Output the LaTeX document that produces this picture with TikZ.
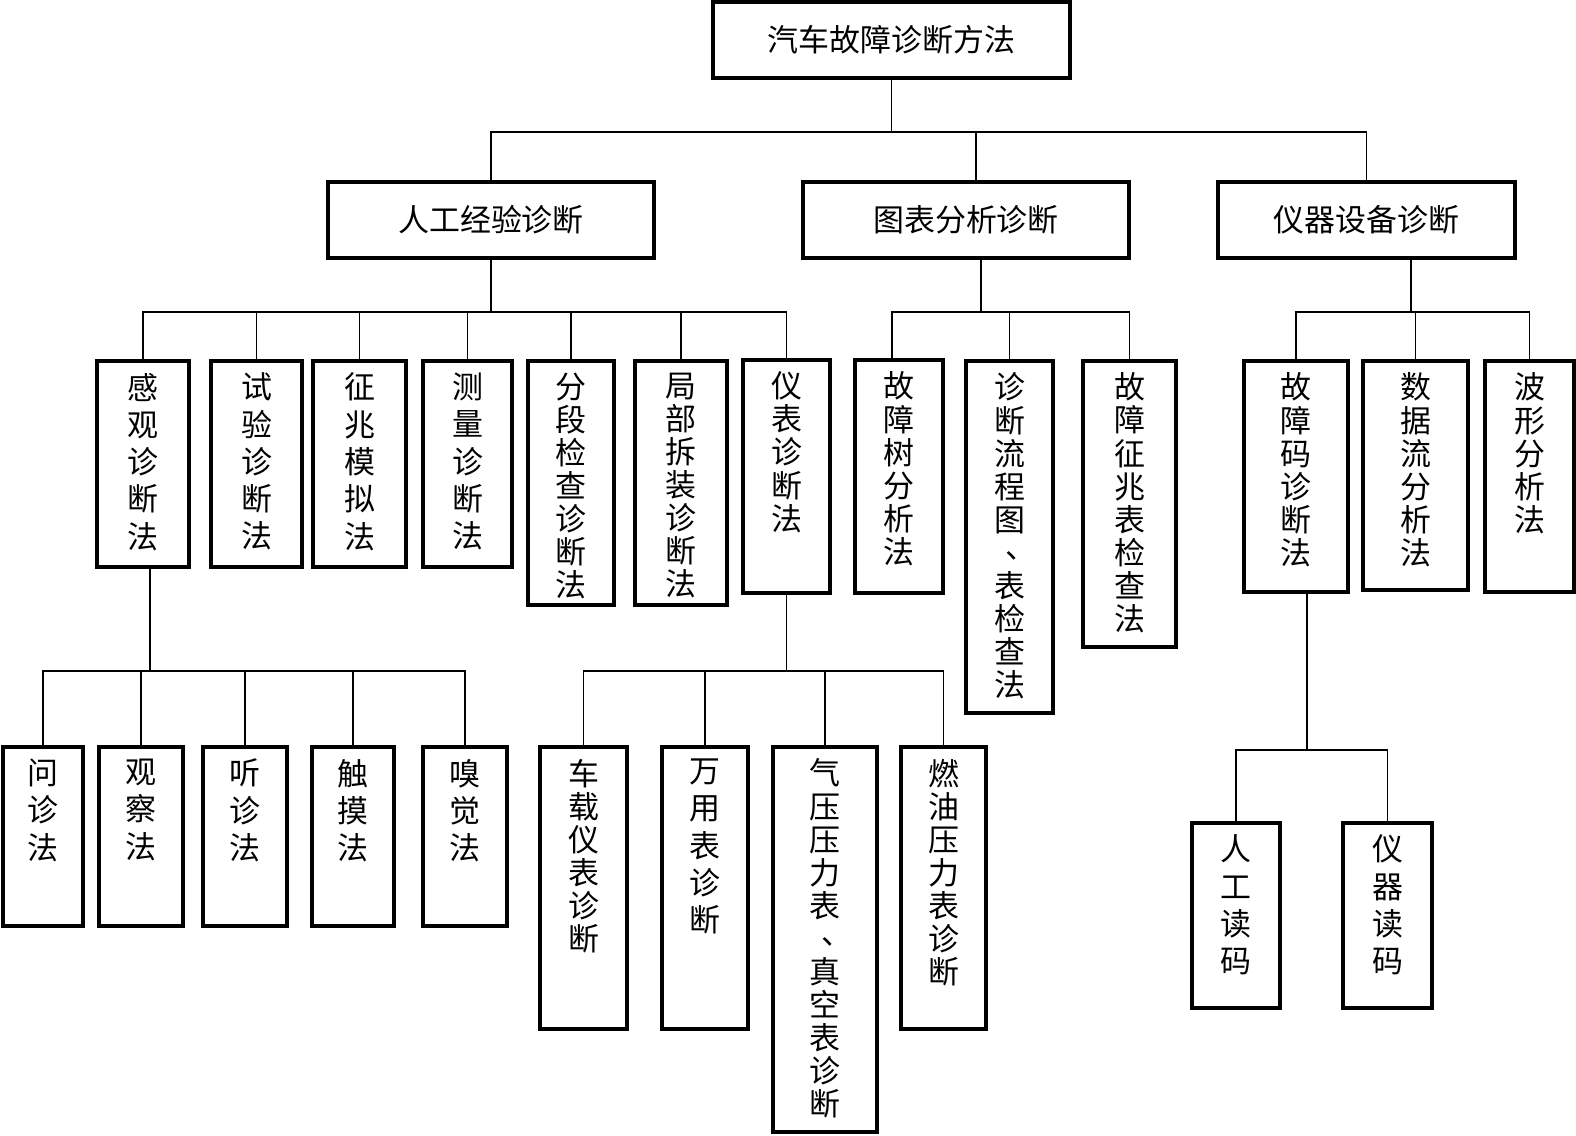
\documentclass[tikz,border=0pt]{standalone}
\usepackage{fontspec}
\setmainfont{Noto Sans CJK SC}
\usetikzlibrary{positioning}
% column of characters, set from the top of a box of fixed height
\newcommand\vtext[2]{\parbox[c][#1][t]{1.2em}{\centering\vspace*{0.12cm}#2}}
\newcommand\vdun{\makebox[1em][l]{\hspace{0.38em}\raisebox{0.2em}{、}}}
\tikzset{
  hbox/.style={
    draw,
    line width=1pt,
    minimum height=0.76cm,
    inner sep=0pt,
    font=\fontsize{8.8}{10}\selectfont
  },
  vbox/.style={
    draw,
    line width=1pt,
    inner sep=0pt,
    font=\fontsize{8.8}{9.4}\selectfont
  },
  vwide/.style={
    vbox,
    font=\fontsize{8.8}{10.6}\selectfont
  },
  link/.style={
    line width=0.5pt
  }
}

\begin{document}
\begin{tikzpicture}[x=0.01cm,y=-0.01cm]
    \useasboundingbox (0,0) rectangle (1576,1135);
    % top
    \node[hbox, minimum width=3.57cm] (root) at (891.5,40) {汽车故障诊断方法};
    \node[hbox, minimum width=3.26cm] (A) at (491,220) {人工经验诊断};
    \node[hbox, minimum width=3.26cm] (B) at (966,220) {图表分析诊断};
    \node[hbox, minimum width=2.97cm] (C) at (1366.5,220) {仪器设备诊断};

    % second level
    \node[vwide, minimum width=0.92cm] (a1) at (143,464) {\vtext{2.06cm}{感\\观\\诊\\断\\法}};
    \node[vwide, minimum width=0.91cm] (a2) at (256.5,464) {\vtext{2.06cm}{试\\验\\诊\\断\\法}};
    \node[vwide, minimum width=0.93cm] (a3) at (359.5,464) {\vtext{2.06cm}{征\\兆\\模\\拟\\法}};
    \node[vwide, minimum width=0.89cm] (a4) at (467.5,464) {\vtext{2.06cm}{测\\量\\诊\\断\\法}};
    \node[vbox, minimum width=0.86cm] (a5) at (571,483) {\vtext{2.44cm}{分\\段\\检\\查\\诊\\断\\法}};
    \node[vbox, minimum width=0.92cm] (a6) at (681,483) {\vtext{2.44cm}{局\\部\\拆\\装\\诊\\断\\法}};
    \node[vbox, minimum width=0.87cm] (a7) at (786.5,476.5) {\vtext{2.33cm}{仪\\表\\诊\\断\\法}};
    \node[vbox, minimum width=0.88cm] (b1) at (899,476.5) {\vtext{2.33cm}{故\\障\\树\\分\\析\\法}};
    \node[vbox, minimum width=0.87cm] (b2) at (1009.5,537) {\vtext{3.52cm}{诊\\断\\流\\程\\图\\\vdun\\表\\检\\查\\法}};
    \node[vbox, minimum width=0.93cm] (b3) at (1129.5,504) {\vtext{2.86cm}{故\\障\\征\\兆\\表\\检\\查\\法}};
    \node[vbox, minimum width=1.04cm] (c1) at (1296,476.5) {\vtext{2.31cm}{故\\障\\码\\诊\\断\\法}};
    \node[vbox, minimum width=1.05cm] (c2) at (1415.5,475.5) {\vtext{2.29cm}{数\\据\\流\\分\\析\\法}};
    \node[vbox, minimum width=0.89cm] (c3) at (1529.5,476.5) {\vtext{2.31cm}{波\\形\\分\\析\\法}};

    % third level
    \node[vwide, minimum width=0.80cm] (d1) at (43,836.5) {\vtext{1.79cm}{问\\诊\\法}};
    \node[vwide, minimum width=0.84cm] (d2) at (141,836.5) {\vtext{1.79cm}{观\\察\\法}};
    \node[vwide, minimum width=0.84cm] (d3) at (245,836.5) {\vtext{1.79cm}{听\\诊\\法}};
    \node[vwide, minimum width=0.82cm] (d4) at (353,836.5) {\vtext{1.79cm}{触\\摸\\法}};
    \node[vwide, minimum width=0.84cm] (d5) at (465,836.5) {\vtext{1.79cm}{嗅\\觉\\法}};
    \node[vbox, minimum width=0.87cm] (e1) at (583.5,888) {\vtext{2.82cm}{车\\载\\仪\\表\\诊\\断}};
    \node[vwide, minimum width=0.86cm] (e2) at (705,888) {\vtext{2.82cm}{万\\用\\表\\诊\\断}};
    \node[vbox, minimum width=1.04cm] (e3) at (825,939.5) {\vtext{3.85cm}{气\\压\\压\\力\\表\\\vdun\\真\\空\\表\\诊\\断}};
    \node[vbox, minimum width=0.85cm] (e4) at (943.5,888) {\vtext{2.82cm}{燃\\油\\压\\力\\表\\诊\\断}};
    \node[vwide, minimum width=0.88cm] (f1) at (1236,915.5) {\vtext{1.85cm}{人\\工\\读\\码}};
    \node[vwide, minimum width=0.89cm] (f2) at (1387.5,915.5) {\vtext{1.85cm}{仪\\器\\读\\码}};

    % connectors
    \draw[link] (root.south) -- ++(0,52) -| (A.north);
    \draw[link] (root.south) -- ++(0,52) -| ([xshift=0.1cm]B.north);
    \draw[link] (root.south) -- ++(0,52) -| (C.north);
    \foreach \c in {a1,a2,a3,a4,a5,a6,a7}
        \draw[link] (A.south) -- ++(0,52) -| (\c.north);
    \draw[link] ([xshift=0.15cm]B.south) -- ++(0,52) -| ([xshift=-0.07cm]b1.north);
    \foreach \c in {b2,b3}
        \draw[link] ([xshift=0.15cm]B.south) -- ++(0,52) -| (\c.north);
    \foreach \c in {c1,c2,c3}
        \draw[link] ([xshift=0.445cm]C.south) -- ++(0,52) -| (\c.north);
    \foreach \c in {d1,d2,d3,d4,d5}
        \draw[link] ([xshift=0.07cm]a1.south) -- ++(0,102) -| (\c.north);
    \foreach \c in {e1,e2,e3,e4}
        \draw[link] (a7.south) -- ++(0,76) -| (\c.north);
    \foreach \c in {f1,f2}
        \draw[link] ([xshift=0.11cm]c1.south) -- ++(0,156) -| (\c.north);
\end{tikzpicture}
\end{document}
